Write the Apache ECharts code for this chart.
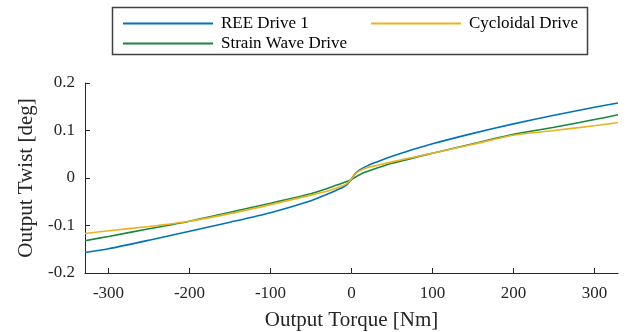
<!DOCTYPE html>
<html>
<head>
<meta charset="utf-8">
<script src="https://cdn.jsdelivr.net/npm/echarts@6/dist/echarts.min.js"></script>
<style>html,body{margin:0;padding:0;background:#fff}#c{width:627px;height:332px}</style>
</head>
<body>
<div id="c"></div>
<script>
const torque = [-329,-300,-250,-200,-150,-100,-50,-30,-20,-10,-5,0,5,10,20,30,50,100,150,200,250,300,329];
const reeDrive = [-0.157,-0.149,-0.131,-0.112,-0.093,-0.073,-0.048,-0.034,-0.027,-0.019,-0.013,-0.002,0.010,0.017,0.026,0.033,0.046,0.072,0.094,0.114,0.132,0.149,0.158];
const strainWave = [-0.132,-0.123,-0.107,-0.091,-0.072,-0.053,-0.033,-0.022,-0.016,-0.010,-0.007,-0.003,0.002,0.007,0.014,0.020,0.031,0.052,0.072,0.092,0.107,0.123,0.133];
const cycloidal = [-0.117,-0.111,-0.102,-0.091,-0.075,-0.056,-0.036,-0.028,-0.022,-0.016,-0.011,-0.002,0.009,0.015,0.022,0.026,0.034,0.052,0.071,0.090,0.100,0.110,0.117];
const xTicks = [-300,-200,-100,0,100,200,300];
const seriesNames = ['REE Drive 1','Strain Wave Drive','Cycloidal Drive'];

const FONT = 'Liberation Serif';
const axisCol = '#262626';
const pair = arr => torque.map((t,i)=>[t,arr[i]]);

const legendText = {fontFamily:FONT,fontSize:17,color:'#000',padding:[0,0,0,3],lineHeight:16};
const chart = echarts.init(document.getElementById('c'));
chart.setOption({
  animation:false,
  textStyle:{fontFamily:FONT},
  grid:{left:85,right:9,top:83,bottom:59,containLabel:false,outerBoundsMode:'none'},
  legend:[
    {data:[seriesNames[0],seriesNames[1]],orient:'vertical',left:117,top:10,itemWidth:90,itemHeight:14,itemGap:3,
     itemStyle:{opacity:0},textStyle:legendText},
    {data:[seriesNames[2]],orient:'vertical',left:365,top:10,itemWidth:90,itemHeight:14,
     itemStyle:{opacity:0},textStyle:legendText}
  ],
  graphic:[{type:'rect',shape:{x:112.5,y:7.5,width:475,height:47},style:{fill:'none',stroke:'#404040',lineWidth:1.5},z:100}],
  xAxis:{type:'value',min:-329,max:329,
    name:'Output Torque [Nm]',nameLocation:'middle',nameGap:37,
    nameTextStyle:{fontFamily:FONT,fontSize:21,color:'#262626'},
    axisLine:{show:true,onZero:false,lineStyle:{color:axisCol,width:1}},
    axisTick:{show:true,inside:true,length:5,customValues:xTicks,lineStyle:{color:axisCol}},
    axisLabel:{customValues:xTicks,fontFamily:FONT,fontSize:17,color:'#262626',margin:12},
    splitLine:{show:false}},
  yAxis:{type:'value',min:-0.2,max:0.2,interval:0.1,
    name:'Output Twist [deg]',nameLocation:'middle',nameGap:48,
    nameTextStyle:{fontFamily:FONT,fontSize:21,color:'#262626'},
    axisLine:{show:true,onZero:false,lineStyle:{color:axisCol,width:1}},
    axisTick:{show:true,inside:true,length:5,lineStyle:{color:axisCol}},
    axisLabel:{fontFamily:FONT,fontSize:17,color:'#262626',margin:10,formatter:v=>String(Math.round(v*10)/10)},
    splitLine:{show:false}},
  series:[
    {name:seriesNames[0],type:'line',data:pair(reeDrive),smooth:0.25,symbol:'none',lineStyle:{color:'#0072BD',width:1.6},itemStyle:{color:'#0072BD'},z:3},
    {name:seriesNames[1],type:'line',data:pair(strainWave),smooth:0.25,symbol:'none',lineStyle:{color:'#16893A',width:1.6},itemStyle:{color:'#16893A'},z:2},
    {name:seriesNames[2],type:'line',data:pair(cycloidal),smooth:0.25,symbol:'none',lineStyle:{color:'#EDB120',width:1.6},itemStyle:{color:'#EDB120'},z:4}
  ]
});
</script>
</body>
</html>
